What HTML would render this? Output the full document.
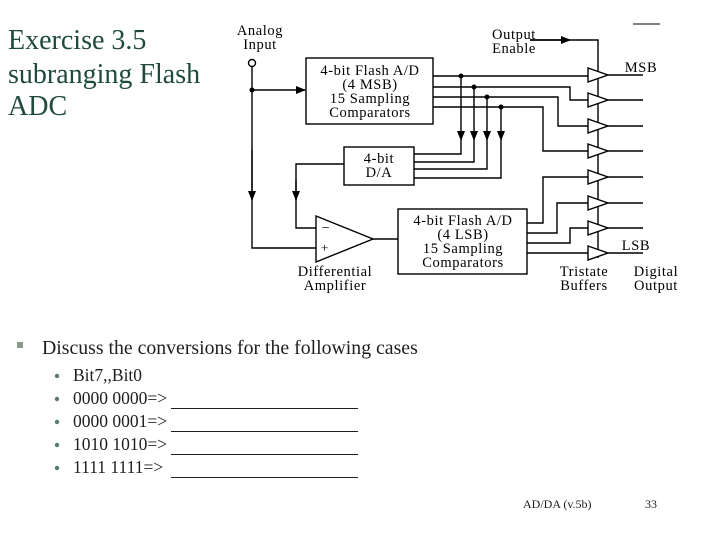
<!DOCTYPE html>
<html><head><meta charset="utf-8"><style>
html,body{margin:0;padding:0;background:#fff;}
svg{display:block;}
</style></head><body>
<svg width="720" height="540" viewBox="0 0 720 540" xmlns="http://www.w3.org/2000/svg">
<defs>
<marker id="ar" markerWidth="10" markerHeight="8" refX="9" refY="4" orient="auto" markerUnits="userSpaceOnUse">
<path d="M0,0 L10,4 L0,8 Z" fill="#000"/></marker>
</defs>
<g font-family="Liberation Serif, serif" fill="#1f4a3c" font-size="28">
<text x="8" y="49">Exercise 3.5</text>
<text x="8" y="83">subranging Flash</text>
<text x="8" y="115">ADC</text>
</g>
<g stroke="#000" stroke-width="1.4" fill="none">
<circle cx="252" cy="63" r="3.5"/>
<path d="M252,66.5 V248 H316"/>
<path d="M252,90 H305" marker-end="url(#ar)"/>
<path d="M252,150 V200" marker-end="url(#ar)"/>
<rect x="306" y="58" width="127" height="66"/>
<rect x="344" y="147" width="70" height="38"/>
<rect x="398" y="209" width="129" height="65"/>
<path d="M316,216 L373,239 L316,262 Z"/>
<path d="M373,239 H398"/>
<path d="M344,164 H296 V228 H316"/>
<path d="M296,180 V200" marker-end="url(#ar)"/>
<path d="M433,76 H588"/>
<path d="M433,87 H570 V100 H588"/>
<path d="M433,97 H558 V126 H588"/>
<path d="M433,107 H543 V151 H588"/>
<path d="M527,223 H543 V177 H588"/>
<path d="M527,233 H557 V203 H588"/>
<path d="M527,243 H570 V228 H588"/>
<path d="M527,253 H588"/>
<path d="M461,76 V140" marker-end="url(#ar)"/>
<path d="M474,87 V140" marker-end="url(#ar)"/>
<path d="M487,97 V140" marker-end="url(#ar)"/>
<path d="M501,107 V140" marker-end="url(#ar)"/>
<path d="M414,154 H461 V140"/>
<path d="M414,162 H474 V140"/>
<path d="M414,169 H487 V140"/>
<path d="M414,178 H501 V140"/>
<path d="M530,40 H598 V258"/>
<path d="M530,40 H570" marker-end="url(#ar)"/>
<path d="M633,24 H660" stroke-width="1"/>
<g fill="#fff">
<path d="M588,68 L608,75 L588,82 Z"/>
<path d="M588,93 L608,100 L588,107 Z"/>
<path d="M588,119 L608,126 L588,133 Z"/>
<path d="M588,144 L608,151 L588,158 Z"/>
<path d="M588,170 L608,177 L588,184 Z"/>
<path d="M588,196 L608,203 L588,210 Z"/>
<path d="M588,221 L608,228 L588,235 Z"/>
<path d="M588,246 L608,253 L588,260 Z"/>
</g>
<path d="M608,75 H643 M608,100 H643 M608,126 H643 M608,151 H643 M608,177 H643 M608,203 H643 M608,228 H643 M608,253 H643"/>
</g>
<g fill="#000">
<circle cx="252" cy="90" r="2.5"/>
<circle cx="461" cy="76" r="2.5"/>
<circle cx="474" cy="87" r="2.5"/>
<circle cx="487" cy="97" r="2.5"/>
<circle cx="501" cy="107" r="2.5"/>
</g>
<g font-family="Liberation Serif, serif" font-size="14.5" letter-spacing="0.6" fill="#000" text-anchor="middle">
<text x="260" y="35">Analog</text><text x="260" y="49">Input</text>
<text x="370" y="75">4-bit Flash A/D</text>
<text x="370" y="89">(4 MSB)</text>
<text x="370" y="103">15 Sampling</text>
<text x="370" y="117">Comparators</text>
<text x="379" y="163">4-bit</text><text x="379" y="177">D/A</text>
<text x="463" y="225">4-bit Flash A/D</text>
<text x="463" y="239">(4 LSB)</text>
<text x="463" y="253">15 Sampling</text>
<text x="463" y="267">Comparators</text>
<text x="514" y="39">Output</text><text x="514" y="53">Enable</text>
<text x="641" y="72">MSB</text>
<text x="636" y="250">LSB</text>
<text x="335" y="276">Differential</text><text x="335" y="290">Amplifier</text>
<text x="584" y="276">Tristate</text><text x="584" y="290">Buffers</text>
<text x="656" y="276">Digital</text><text x="656" y="290">Output</text>
<text x="326" y="232" font-size="14">−</text>
<text x="325" y="252" font-size="13">+</text>
</g>
<rect x="17" y="342" width="6" height="6" fill="#8a9a8a"/>
<g font-family="Liberation Serif, serif" fill="#1e1e1e">
<text x="42" y="354" font-size="19.8">Discuss the conversions for the following cases</text>
<g font-size="17.5">
<text x="73" y="381">Bit7,,Bit0</text>
<text x="73" y="404">0000 0000=&gt;</text>
<text x="73" y="427">0000 0001=&gt;</text>
<text x="73" y="450">1010 1010=&gt;</text>
<text x="73" y="473">1111 1111=&gt;</text>
</g>
<text x="523" y="508" font-size="12">AD/DA (v.5b)</text>
<text x="645" y="508" font-size="12">33</text>
</g>
<g fill="#5a7a6a">
<circle cx="57" cy="376" r="2.2"/><circle cx="57" cy="399" r="2.2"/><circle cx="57" cy="422" r="2.2"/><circle cx="57" cy="445" r="2.2"/><circle cx="57" cy="468" r="2.2"/>
</g>
<g stroke="#1e1e1e" stroke-width="1">
<path d="M171,408.5 H358 M171,431.5 H358 M171,454.5 H358 M171,477.5 H358"/>
</g>
</svg>
</body></html>
